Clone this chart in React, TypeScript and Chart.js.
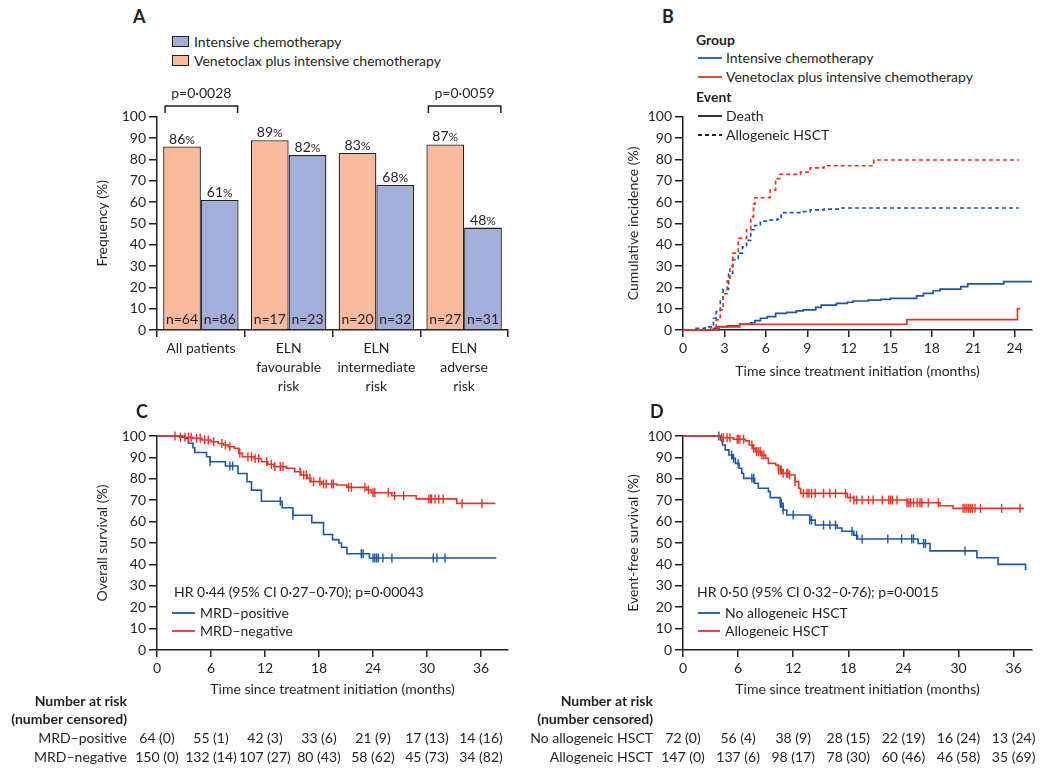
import React, { useEffect, useRef } from 'react';
import { Chart, registerables } from 'chart.js';

Chart.register(...registerables);

const FONT = 'Lato, "Noto Sans", sans-serif';
const INK = '#231f20';
const BLUE = '#1d56a4';
const RED = '#ee3124';
const ORANGE_FILL = '#f9b99d';
const BLUE_FILL = '#a3aed9';

Chart.defaults.font.family = FONT;
Chart.defaults.font.size = 14;
Chart.defaults.color = INK;

// ---------- Panel A ----------
const groupLabels = [['All patients'], ['ELN', 'favourable', 'risk'], ['ELN', 'intermediate', 'risk'], ['ELN', 'adverse', 'risk']];
const venPct = [86, 89, 83, 87];
const icPct = [61, 82, 68, 48];
const venN = [64, 17, 20, 27];
const icN = [86, 23, 32, 31];
const pValues = ['p=0·0028', '', '', 'p=0·0059'];

// ---------- Panel B (cumulative incidence) ----------
const venHsctT = [0, 1.7, 2.0, 2.4, 2.7, 2.9, 3.2, 3.4, 3.6, 4.0, 4.6, 4.9, 5.1, 5.2, 6.3, 6.7, 7.0, 8.5, 9.2, 10.2, 13.8, 24.3];
const venHsctV = [0, 0, 1.5, 4.7, 9.4, 17, 23, 30, 36, 43, 47, 53, 59, 62, 65.6, 71, 73, 74, 76, 77, 79.7, 79.7];
const icHsctT = [0, 0.8, 1.6, 2.2, 2.4, 2.7, 2.9, 3.3, 3.6, 4.0, 4.3, 4.6, 4.9, 5.2, 5.6, 6.3, 6.8, 7.1, 8.7, 9.2, 10.2, 11.4, 24.3];
const icHsctV = [0, 0.8, 1.5, 5.5, 8.6, 14, 19, 26.5, 33, 36, 39, 42, 47, 49, 51, 51.5, 52, 55, 55.5, 56.3, 56.7, 57.2, 57.2];
const icDeathT = [0, 2.2, 2.6, 3.2, 4.1, 4.9, 5.2, 5.6, 6.1, 6.7, 7.5, 8.2, 8.7, 9.6, 10.0, 11.1, 11.9, 12.3, 13.4, 14.3, 15.0, 16.9, 17.4, 18.1, 18.6, 20.1, 20.6, 23.2, 25.25];
const icDeathV = [0, 0.8, 1.6, 1.9, 2.8, 3.4, 4.4, 5.5, 6.25, 7.8, 8.3, 9.0, 9.4, 10.6, 11.7, 12.5, 13.0, 13.6, 14.0, 14.4, 14.8, 16.0, 17.2, 18.4, 19.2, 20.3, 21.6, 22.7, 22.7];
const venDeathT = [0, 2.5, 4.1, 16.2, 24.2, 24.4];
const venDeathV = [0, 1.5, 2.7, 4.9, 10, 10];

// ---------- Panel C (overall survival by MRD) ----------
const mrdPosT = [0, 2.0, 3.1, 3.5, 4.0, 4.2, 5.5, 5.9, 7.6, 9.0, 10.0, 10.5, 11.6, 13.9, 15.1, 17.2, 18.5, 19.5, 20.2, 20.5, 21.1, 23.6, 37.7];
const mrdPosV = [100, 100, 98.9, 96.6, 94.5, 92.3, 90.3, 88, 86, 82.5, 78.6, 74.7, 69.5, 66.5, 63, 59.5, 54, 51.6, 50, 48, 45, 43, 43];
const mrdPosCens = [5.9, 8.1, 8.4, 13.7, 15.1, 22.7, 22.9, 24.0, 24.2, 24.4, 24.6, 25.1, 26.1, 30.7, 31.1, 32.0];
const mrdNegT = [0, 2.5, 4.0, 5.0, 6.0, 6.8, 7.4, 7.9, 8.6, 9.1, 9.5, 10.8, 11.6, 12.3, 13.0, 14.4, 15.3, 16.0, 16.7, 17.1, 18.3, 20.0, 21.1, 23.3, 23.8, 26.1, 28.8, 33.3, 37.6];
const mrdNegV = [100, 99.4, 98.9, 98.1, 97.3, 96.5, 95.8, 95, 94.2, 91.9, 90.3, 89.5, 88, 86.8, 85.7, 84.9, 83.3, 81.8, 80.2, 78.7, 77.6, 77.1, 76, 74.8, 73.5, 72.1, 70.6, 68.5, 68.5];
const mrdNegCens = [2.0, 2.6, 3.1, 3.5, 3.8, 4.4, 4.8, 5.3, 5.7, 6.3, 7.2, 7.6, 8.1, 9.2, 10.1, 10.5, 10.9, 11.3, 12.2, 12.7, 13.1, 13.7, 14.0, 15.9, 16.3, 16.6, 17.0, 17.4, 18.1, 18.5, 18.8, 19.4, 19.6, 21.3, 21.6, 23.1, 23.5, 24.0, 24.2, 25.7, 26.4, 27.4, 30.2, 30.4, 30.5, 30.9, 31.3, 31.8, 33.9, 36.1];

// ---------- Panel D (event-free survival by HSCT) ----------
const noHsctT = [0, 3.9, 4.1, 4.3, 4.6, 5.0, 5.4, 5.7, 6.1, 6.4, 6.6, 7.8, 8.2, 9.3, 9.5, 10.6, 10.9, 11.3, 13.8, 14.4, 16.8, 17.3, 18.6, 19.0, 25.6, 26.9, 32.0, 34.3, 37.3, 37.3];
const noHsctV = [100, 100, 98.1, 95.8, 93.5, 91.1, 89.6, 87.2, 84.9, 82.6, 80.2, 77.9, 75.6, 74, 71.2, 68.5, 65.4, 63.1, 60.7, 58.4, 57, 55.5, 53.6, 51.9, 49.8, 46.3, 43.1, 40, 40, 37.4];
const noHsctCens = [3.9, 5.3, 5.5, 6.0, 7.5, 7.7, 10.6, 10.7, 10.9, 12.0, 13.8, 14.0, 15.3, 16.0, 16.6, 18.4, 18.9, 19.5, 22.3, 23.8, 24.9, 25.1, 26.2, 26.4, 30.7];
const hsctT = [0, 4.0, 4.2, 5.5, 6.8, 7.2, 7.6, 7.9, 8.5, 9.0, 9.3, 10.1, 10.4, 10.9, 11.6, 12.2, 12.6, 12.8, 17.9, 18.6, 24.4, 28.0, 29.4, 37.1];
const hsctV = [100, 100, 99.2, 98.5, 97.7, 95.8, 94.2, 92.7, 91.1, 89.6, 87.2, 86.4, 84.1, 82.6, 81.8, 78.7, 75.6, 73.2, 71.2, 70.1, 68.8, 67.4, 66.2, 66.2];
const hsctCens = [4.2, 4.4, 4.8, 5.1, 5.9, 6.0, 6.2, 6.6, 7.5, 7.7, 8.0, 8.2, 8.4, 8.6, 8.8, 10.4, 10.6, 10.7, 10.9, 11.3, 11.4, 11.6, 12.2, 13.1, 13.5, 13.7, 14.0, 14.4, 15.3, 16.0, 16.6, 17.7, 18.2, 18.6, 18.9, 19.5, 20.2, 20.7, 21.7, 22.4, 22.6, 22.8, 23.3, 24.4, 24.6, 24.8, 25.1, 25.5, 25.8, 26.0, 26.7, 27.8, 30.5, 30.7, 30.9, 31.1, 31.3, 31.5, 31.8, 32.4, 34.7, 36.7];

// ---------- Number at risk ----------
const riskTimes = [0, 6, 12, 18, 24, 30, 36];
const mrdPosRisk = [64, 55, 42, 33, 21, 17, 14];
const mrdPosCensN = [0, 1, 3, 6, 9, 13, 16];
const mrdNegRisk = [150, 132, 107, 80, 58, 45, 34];
const mrdNegCensN = [0, 14, 27, 43, 62, 73, 82];
const noHsctRisk = [72, 56, 38, 28, 22, 16, 13];
const noHsctCensN = [0, 4, 9, 15, 19, 24, 24];
const hsctRisk = [147, 137, 98, 78, 60, 46, 35];
const hsctCensN = [0, 6, 17, 30, 46, 58, 69];

// ---------- helpers ----------
function levelAt(T: number[], V: number[], t: number) {
  let v = V[0];
  for (let i = 0; i < T.length; i++) if (T[i] <= t) v = V[i];
  return v;
}
const pts = (T: number[], V: number[]) => T.map((t, i) => ({ x: t, y: V[i] }));

const axisCommon = {
  grid: { drawOnChartArea: false, tickLength: 8, color: INK, lineWidth: 1.5 },
  border: { color: INK, width: 1.5 },
};

function yAxis(title: string, width: number, titlePad: number) {
  return {
    min: 0, max: 100,
    ticks: { stepSize: 10, padding: 3, color: INK, font: { size: 14 } },
    ...axisCommon,
    title: { display: true, text: title, color: INK, font: { size: 14 }, padding: { top: titlePad, bottom: 0 } },
    afterFit: (s: any) => { s.width = width; },
  };
}

function xLinear(max: number, step: number, height: number, titlePad: number) {
  return {
    type: 'linear', min: 0, max,
    ticks: { stepSize: step, includeBounds: false, padding: 3, maxRotation: 0, autoSkip: false, color: INK, font: { size: 14 } },
    grid: { drawOnChartArea: false, tickLength: 7, color: INK, lineWidth: 1.5 },
    border: { color: INK, width: 1.5 },
    title: { display: true, text: 'Time since treatment initiation (months)', color: INK, font: { size: 14 }, padding: { top: 0, bottom: titlePad } },
    afterFit: (s: any) => { s.height = height; },
  };
}

const barLabelPlugin = {
  id: 'barLabels',
  afterDatasetsDraw(chart: any) {
    const ctx = chart.ctx;
    const nLists = [venN, icN];
    ctx.save();
    ctx.fillStyle = INK;
    chart.data.datasets.forEach((ds: any, i: number) => {
      const meta = chart.getDatasetMeta(i);
      meta.data.forEach((bar: any, j: number) => {
        const { x, y, base } = bar.getProps(['x', 'y', 'base'], true);
        const num = String(ds.data[j]);
        ctx.font = `14px ${FONT}`;
        const w1 = ctx.measureText(num).width;
        ctx.font = `12px ${FONT}`;
        const w2 = ctx.measureText('%').width;
        const x0 = x - (w1 + w2) / 2;
        ctx.textAlign = 'left';
        ctx.textBaseline = 'alphabetic';
        ctx.font = `14px ${FONT}`;
        ctx.fillText(num, x0, y - 3);
        ctx.font = `12px ${FONT}`;
        ctx.fillText('%', x0 + w1, y - 3);
        ctx.font = `14px ${FONT}`;
        ctx.textAlign = 'center';
        ctx.fillText(`n=${nLists[i][j]}`, x, base - 5);
      });
    });
    const ys = chart.scales.y;
    pValues.forEach((p, j) => {
      if (!p) return;
      const b0 = chart.getDatasetMeta(0).data[j] as any;
      const b1 = chart.getDatasetMeta(1).data[j] as any;
      const xl = b0.x - b0.width / 2 + 2;
      const xr = b1.x + b1.width / 2 - 1;
      const yl = ys.getPixelForValue(105);
      const yt = ys.getPixelForValue(101.7);
      ctx.strokeStyle = INK;
      ctx.lineWidth = 1.5;
      ctx.beginPath();
      ctx.moveTo(xl, yt); ctx.lineTo(xl, yl); ctx.lineTo(xr, yl); ctx.lineTo(xr, yt);
      ctx.stroke();
      ctx.textAlign = 'center';
      ctx.textBaseline = 'middle';
      ctx.font = `14px ${FONT}`;
      ctx.fillText(p, (xl + xr) / 2, ys.getPixelForValue(111));
    });
    ctx.restore();
  },
};

function riskTablePlugin(rows: { label: string; risk: number[]; cens: number[] }[]) {
  return {
    id: 'riskTable',
    afterDraw(chart: any) {
      const { ctx, chartArea, scales } = chart;
      const labelX = chartArea.left - 30;
      const base = chartArea.bottom;
      ctx.save();
      ctx.fillStyle = INK;
      ctx.textBaseline = 'middle';
      ctx.font = `bold 14px ${FONT}`;
      ctx.textAlign = 'right';
      ctx.fillText('Number at risk', labelX, base + 51);
      ctx.fillText('(number censored)', labelX, base + 69);
      ctx.font = `14px ${FONT}`;
      rows.forEach((row, r) => {
        const y = base + 88 + r * 19;
        ctx.textAlign = 'right';
        ctx.fillText(row.label, labelX, y);
        ctx.textAlign = 'center';
        row.risk.forEach((n, k) => {
          ctx.fillText(`${n} (${row.cens[k]})`, scales.x.getPixelForValue(riskTimes[k]), y);
        });
      });
      ctx.restore();
    },
  };
}

function kmDatasets(curves: { T: number[]; V: number[]; cens: number[]; color: string }[]) {
  const out: any[] = [];
  curves.forEach((c) => {
    out.push({
      data: c.cens.map((t) => ({ x: t, y: levelAt(c.T, c.V, t) })),
      showLine: false, pointStyle: 'line', pointRotation: 90, pointRadius: 4.5,
      pointBorderColor: c.color, pointBorderWidth: 1.4, clip: false,
    });
    out.push({
      data: pts(c.T, c.V), stepped: 'before', borderColor: c.color, borderWidth: 1.6,
      pointRadius: 0, fill: false, clip: false,
    });
  });
  return out;
}

const baseOpts = {
  responsive: false,
  animation: false,
  events: [],
  plugins: { legend: { display: false }, tooltip: { enabled: false } },
};

function configA() {
  return {
    type: 'bar',
    data: {
      labels: groupLabels,
      datasets: [
        { label: 'Venetoclax plus intensive chemotherapy', data: venPct, backgroundColor: ORANGE_FILL, borderColor: INK, borderWidth: 1.3, categoryPercentage: 0.86, barPercentage: 1 },
        { label: 'Intensive chemotherapy', data: icPct, backgroundColor: BLUE_FILL, borderColor: INK, borderWidth: 1.3, categoryPercentage: 0.86, barPercentage: 1 },
      ],
    },
    options: {
      ...baseOpts,
      layout: { padding: { top: 36.7, right: 12, left: 0, bottom: 0 } },
      scales: {
        x: {
          grid: { offset: true, drawOnChartArea: false, tickLength: 7, color: INK, lineWidth: 1.5 },
          border: { color: INK, width: 1.5 },
          ticks: { color: INK, padding: 2, maxRotation: 0, autoSkip: false, font: { size: 14, lineHeight: 1.35 } },
          afterFit: (s: any) => { s.height = 70; },
        },
        y: yAxis('Frequency (%)', 157, 93.6),
      },
    },
    plugins: [barLabelPlugin],
  };
}

function configB() {
  return {
    type: 'line',
    data: {
      datasets: [
        { data: pts(venHsctT, venHsctV), stepped: 'before', borderColor: RED, borderWidth: 1.7, borderDash: [4, 3], pointRadius: 0, clip: false },
        { data: pts(venDeathT, venDeathV), stepped: 'before', borderColor: RED, borderWidth: 1.7, pointRadius: 0, clip: false },
        { data: pts(icHsctT, icHsctV), stepped: 'before', borderColor: BLUE, borderWidth: 1.7, borderDash: [4, 3], pointRadius: 0, clip: false },
        { data: pts(icDeathT, icDeathV), stepped: 'before', borderColor: BLUE, borderWidth: 1.7, pointRadius: 0, clip: false },
      ],
    },
    options: {
      ...baseOpts,
      layout: { padding: { top: 16.7, right: 8, left: 0, bottom: 0 } },
      scales: {
        x: { ...xLinear(25.25, 3, 70, 20.6) },
        y: yAxis('Cumulative incidence (%)', 158, 99.6),
      },
    },
  };
}

function configC() {
  return {
    type: 'line',
    data: {
      datasets: kmDatasets([
        { T: mrdNegT, V: mrdNegV, cens: mrdNegCens, color: RED },
        { T: mrdPosT, V: mrdPosV, cens: mrdPosCens, color: BLUE },
      ]),
    },
    options: {
      ...baseOpts,
      layout: { padding: { top: 16, right: 12, left: 0, bottom: 63 } },
      scales: {
        x: xLinear(39, 6, 60, 12.6),
        y: yAxis('Overall survival (%)', 157, 93.6),
      },
    },
    plugins: [riskTablePlugin([
      { label: 'MRD–positive', risk: mrdPosRisk, cens: mrdPosCensN },
      { label: 'MRD–negative', risk: mrdNegRisk, cens: mrdNegCensN },
    ])],
  };
}

function configD() {
  return {
    type: 'line',
    data: {
      datasets: kmDatasets([
        { T: hsctT, V: hsctV, cens: hsctCens, color: RED },
        { T: noHsctT, V: noHsctV, cens: noHsctCens, color: BLUE },
      ]),
    },
    options: {
      ...baseOpts,
      layout: { padding: { top: 16, right: 8, left: 0, bottom: 63 } },
      scales: {
        x: xLinear(38, 6, 60, 12.6),
        y: yAxis('Event-free survival (%)', 158, 99.6),
      },
    },
    plugins: [riskTablePlugin([
      { label: 'No allogeneic HSCT', risk: noHsctRisk, cens: noHsctCensN },
      { label: 'Allogeneic HSCT', risk: hsctRisk, cens: hsctCensN },
    ])],
  };
}

function ChartCanvas({ left, top, width, height, make }: any) {
  const ref = useRef<HTMLCanvasElement>(null);
  useEffect(() => {
    const chart = new Chart(ref.current as HTMLCanvasElement, make());
    return () => chart.destroy();
  }, []);
  return <canvas ref={ref} width={width} height={height} style={{ position: 'absolute', left, top, width, height }} />;
}

function Txt({ x, y, bold, size = 14, children }: any) {
  return (
    <div style={{ position: 'absolute', left: x, top: y - 9, height: 18, lineHeight: '18px', fontSize: size, fontWeight: bold ? 700 : 400, fontFamily: FONT, color: INK, whiteSpace: 'nowrap' }}>
      {children}
    </div>
  );
}

function LegLine({ x1, x2, y, color, dash }: any) {
  return (
    <svg style={{ position: 'absolute', left: x1, top: y - 2 }} width={x2 - x1} height={4}>
      <line x1={0} y1={2} x2={x2 - x1} y2={2} stroke={color} strokeWidth={1.8} strokeDasharray={dash ? '4 3' : undefined} />
    </svg>
  );
}

function LegBox({ x, y, fill }: any) {
  return <div style={{ position: 'absolute', left: x, top: y, width: 17, height: 11, boxSizing: 'border-box', border: `1.5px solid ${INK}`, background: fill }} />;
}

export default function App() {
  return (
    <div style={{ position: 'absolute', left: 0, top: 0, width: 1050, height: 773, background: '#fff', overflow: 'hidden', fontFamily: FONT }}>
      <ChartCanvas left={0} top={80} width={520} height={320} make={configA} />
      <ChartCanvas left={525} top={100} width={515} height={300} make={configB} />
      <ChartCanvas left={0} top={420} width={520} height={353} make={configC} />
      <ChartCanvas left={525} top={420} width={515} height={353} make={configD} />

      {/* Panel letters */}
      <Txt x={133} y={16} bold size={18}>A</Txt>
      <Txt x={662} y={16} bold size={18}>B</Txt>
      <Txt x={136} y={411} bold size={18}>C</Txt>
      <Txt x={650} y={411} bold size={18}>D</Txt>

      {/* Legend A */}
      <LegBox x={172} y={36} fill={BLUE_FILL} />
      <Txt x={194} y={42}>Intensive chemotherapy</Txt>
      <LegBox x={172} y={55} fill={ORANGE_FILL} />
      <Txt x={194} y={61}>Venetoclax plus intensive chemotherapy</Txt>

      {/* Legend B */}
      <Txt x={696} y={40} bold>Group</Txt>
      <LegLine x1={698} x2={722} y={58} color={BLUE} />
      <Txt x={726} y={58}>Intensive chemotherapy</Txt>
      <LegLine x1={698} x2={722} y={77} color={RED} />
      <Txt x={726} y={77}>Venetoclax plus intensive chemotherapy</Txt>
      <Txt x={696} y={97} bold>Event</Txt>
      <LegLine x1={698} x2={722} y={116} color={INK} />
      <Txt x={726} y={116}>Death</Txt>
      <LegLine x1={698} x2={722} y={135} color={INK} dash />
      <Txt x={726} y={135}>Allogeneic HSCT</Txt>

      {/* Legend C */}
      <Txt x={174} y={592}>HR 0·44 (95% CI 0·27–0·70); p=0·00043</Txt>
      <LegLine x1={172} x2={195} y={613} color={BLUE} />
      <Txt x={200} y={613}>MRD–positive</Txt>
      <LegLine x1={172} x2={195} y={631} color={RED} />
      <Txt x={200} y={631}>MRD–negative</Txt>

      {/* Legend D */}
      <Txt x={697} y={592}>HR 0·50 (95% CI 0·32–0·76); p=0·0015</Txt>
      <LegLine x1={698} x2={720} y={613} color={BLUE} />
      <Txt x={725} y={613}>No allogeneic HSCT</Txt>
      <LegLine x1={698} x2={720} y={631} color={RED} />
      <Txt x={725} y={631}>Allogeneic HSCT</Txt>
    </div>
  );
}
